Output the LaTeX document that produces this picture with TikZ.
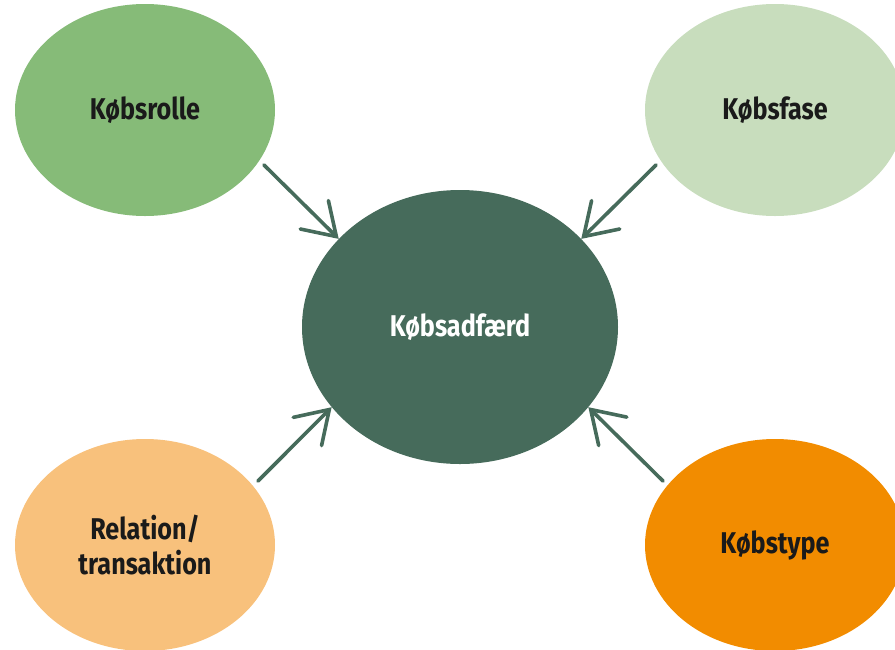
\documentclass[tikz,border=0pt]{standalone}
\usepackage{fontspec}
\setmainfont{Fira Sans}
\newfontfamily\labelfont[FakeStretch=0.84]{Fira Sans}
\usetikzlibrary{arrows.meta,shapes.geometric}

\definecolor{rollegreen}{HTML}{86BB78}
\definecolor{faselight}{HTML}{C8DDBD}
\definecolor{coredark}{HTML}{466B5B}
\definecolor{relpeach}{HTML}{F8C17C}
\definecolor{typeorange}{HTML}{F28C00}
\definecolor{labeltext}{HTML}{1A1A1A}

\tikzset{
  bubble/.style={ellipse, draw=none, inner sep=0pt,
    minimum width=260pt, minimum height=212pt,
    font=\labelfont\bfseries\fontsize{30}{35}\selectfont,
    text=labeltext, align=center},
  core/.style={bubble, minimum width=316pt, minimum height=274pt,
    fill=coredark, text=white},
  feed/.style={draw=coredark, line width=3.6pt, line cap=round,
    -{Straight Barb[length=31pt,width=40pt,line cap=round]}}
}

\begin{document}
\begin{tikzpicture}[x=1pt,y=-1pt]
  \useasboundingbox (0,0) rectangle (895,649);

  % the four influencing factors
  \node[bubble, fill=rollegreen] (rolle) at (145,110) {Købsrolle};
  \node[bubble, fill=faselight]  (fase)  at (775,110) {Købsfase};
  \node[bubble, fill=relpeach]   (rel)   at (145,545) {Relation/\\transaktion};
  \node[bubble, fill=typeorange] (type)  at (775,545) {Købstype};

  % central concept
  \node[core] (adf) at (460,327) {Købsadfærd};

  % arrow tails just outside the outer bubbles
  \coordinate (rolleout) at (264,165);
  \coordinate (faseout)  at (656,165);
  \coordinate (relout)   at (258,481);
  \coordinate (typeout)  at (663,481);

  \draw[feed] (rolleout) -- (adf.144);
  \draw[feed] (faseout)  -- (adf.36);
  \draw[feed] (relout)   -- (adf.212);
  \draw[feed] (typeout)  -- (adf.328);
\end{tikzpicture}
\end{document}
